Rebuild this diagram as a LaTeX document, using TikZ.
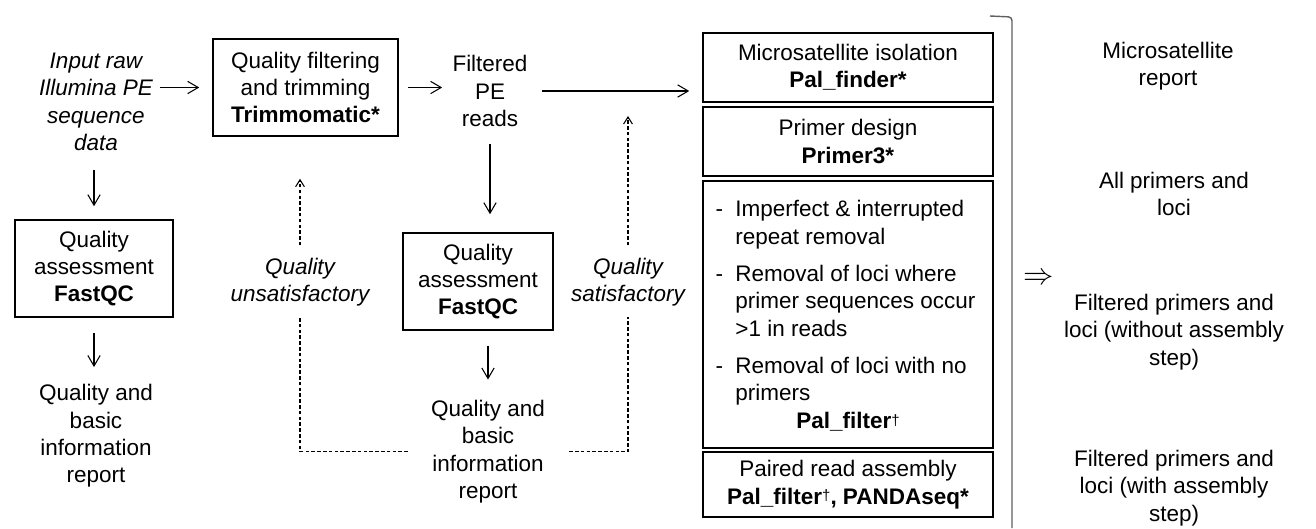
\documentclass[tikz,border=0pt]{standalone}
\usepackage{fontspec}
\setmainfont{Liberation Sans}
\usepackage{array}
\usetikzlibrary{arrows.meta}
\newcolumntype{L}[1]{>{\raggedright\arraybackslash}p{#1}}
\newcommand{\sdagger}{{\mdseries\fontsize{8.5}{8.5}\selectfont\raisebox{0.4ex}{†}}}
\hyphenpenalty=10000

\begin{document}
\begin{tikzpicture}[x=0.02cm, y=-0.02cm, font=\fontsize{12.8}{15.6}\selectfont]
  \tikzset{
    proc/.style={draw, line width=0.9pt, align=center, inner sep=0pt},
    lbl/.style={align=center, inner sep=0pt},
    flow/.style={-{Straight Barb[length=6pt,width=7pt]}, line width=0.6pt},
    qcheck/.style={-{Straight Barb[length=4pt,width=5pt]}, line width=0.6pt, dash pattern=on 2pt off 1.3pt},
  }
  \useasboundingbox (0,0) rectangle (1316,528);

  % input and first QC branch
  \node[lbl, font=\fontsize{12.8}{15.6}\selectfont\itshape] (input) at (96,102)
    {Input raw\\Illumina PE\\sequence\\data};
  \node[proc, minimum width=3.16cm, minimum height=1.94cm] (qa1) at (94,268.5)
    {Quality\\assessment\\\textbf{FastQC}};
  \node[lbl] (rep1) at (96,436) {Quality and\\basic\\information\\report};

  % trimming
  \node[proc, minimum width=3.7cm, minimum height=1.94cm] (trim) at (305.5,87.5)
    {Quality filtering\\and trimming\\\textbf{Trimmomatic*}};
  \node[lbl] (reads) at (490,91) {Filtered\\PE\\reads};
  \node[proc, minimum width=3.0cm, minimum height=1.94cm] (qa2) at (478,281.5)
    {Quality\\assessment\\\textbf{FastQC}};
  \node[lbl] (rep2) at (488,451.5) {Quality and\\basic\\information\\report};
  \node[lbl, font=\fontsize{12.8}{15.6}\selectfont\itshape] (unsat) at (300,282)
    {Quality\\unsatisfactory};
  \node[lbl, font=\fontsize{12.8}{15.6}\selectfont\itshape] (sat) at (628,282)
    {Quality\\satisfactory};

  % microsatellite steps
  \node[proc, minimum width=5.8cm, minimum height=1.38cm] (finder) at (848,67.5)
    {Microsatellite isolation\\\textbf{Pal\_finder*}};
  \node[proc, minimum width=5.8cm, minimum height=1.38cm] (primer) at (848,141.5)
    {Primer design\\\textbf{Primer3*}};
  \node[proc, minimum width=5.8cm, minimum height=5.34cm] (pfilter) at (848,314.5)
    {\begin{tabular}{@{}l@{\hspace{7pt}}L{4.9cm}@{}}
      - & Imperfect \& interrupted repeat removal\\ \noalign{\vskip 5.5pt}
      - & Removal of loci where primer sequences occur >1 in reads\\ \noalign{\vskip 5.5pt}
      - & Removal of loci with no primers
     \end{tabular}\\[1pt]
     \textbf{Pal\_filter}\sdagger};
  \node[proc, minimum width=5.8cm, minimum height=1.3cm] (assembly) at (848,484.5)
    {Paired read assembly\\\textbf{Pal\_filter}\sdagger\textbf{, PANDAseq*}};

  % outputs
  \draw[gray!75!black, line width=0.8pt, rounded corners=2pt] (990,16) -- (1012,17) -- (1012,528);
  \node[lbl, font=\fontsize{18}{18}\selectfont] (implies) at (1039,279) {$\Rightarrow$};
  \node[lbl] (msrep) at (1168,66) {Microsatellite\\report};
  \node[lbl] (allrep) at (1174,194) {All primers and\\loci};
  \node[lbl] (filtrep) at (1174,332) {Filtered primers and\\loci (without assembly\\step)};
  \node[lbl] (asmrep) at (1174,488) {Filtered primers and\\loci (with assembly\\step)};

  % main flow
  \draw[flow, shorten <=0.14cm, shorten >=0.26cm] (input.east |- trim.west) -- (trim.west);
  \draw[flow, shorten <=0.18cm, shorten >=0.2cm] (trim.east) -- (trim.east -| reads.west);
  \draw[flow, shorten <=0.28cm, shorten >=0.26cm] (reads.east) -- (reads.east -| finder.west);
  \draw[flow, shorten <=0.38cm, shorten >=0.26cm] (qa1.north |- input.south) -- (qa1.north);
  \draw[flow, shorten <=0.3cm, shorten >=0.34cm] (qa1.south) -- (qa1.south |- rep1.north);
  \draw[flow, shorten <=0.34cm, shorten >=0.36cm] (reads.south) -- (reads.south |- qa2.north);
  \draw[flow, shorten <=0.3cm, shorten >=0.4cm] (rep2.north |- qa2.south) -- (rep2.north);

  % quality decision loops
  \draw[qcheck, -, shorten <=0.46cm, shorten >=0.2cm] (rep2.west) -| (unsat.south);
  \draw[qcheck, shorten <=0.24cm, shorten >=0.84cm] (unsat.north) -- (unsat.north |- trim.south);
  \draw[qcheck, -, shorten <=0.48cm, shorten >=0.2cm] (rep2.east) -| (sat.south);
  \draw[qcheck, shorten <=0.24cm, shorten >=0.5cm] (sat.north) -- (sat.north |- reads.east);
\end{tikzpicture}
\end{document}
